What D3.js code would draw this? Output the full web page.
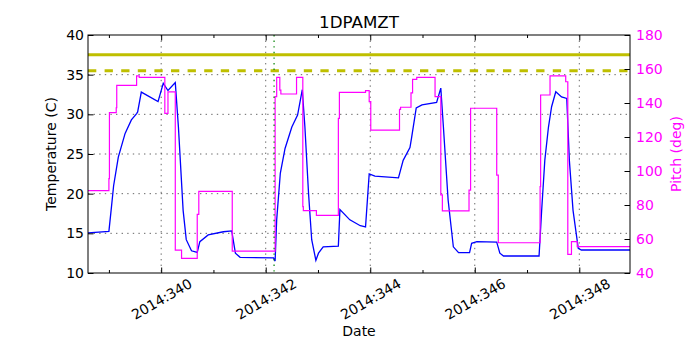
<!DOCTYPE html>
<html>
<head>
<meta charset="utf-8">
<script src="https://cdn.jsdelivr.net/npm/d3@7"></script>
<style>
body { margin: 0; background: #fff; }
text { font-family: "DejaVu Sans", sans-serif; }
</style>
</head>
<body>
<svg></svg>
<script>
// Temperature (1DPAMZT), day of year 2014
const tempDays = [338.60, 339.00, 339.05, 339.09, 339.18, 339.31, 339.43, 339.53, 339.55, 339.62, 339.94,
	340.04, 340.13, 340.27, 340.33, 340.42, 340.48, 340.58, 340.69, 340.74, 340.90, 341.19, 341.35,
	341.42, 341.51, 342.15, 342.18, 342.21, 342.28, 342.37, 342.50, 342.61, 342.70, 342.75, 342.82,
	342.88, 342.96, 343.01, 343.10, 343.39, 343.42, 343.61, 343.81, 343.91, 343.98, 344.09, 344.54,
	344.63, 344.76, 344.79, 344.88, 344.99, 345.27, 345.35, 345.40, 345.49, 345.59, 345.69, 345.90,
	345.94, 346.04, 346.42, 346.48, 346.55, 347.23, 347.28, 347.34, 347.41, 347.47, 347.55, 347.66,
	347.76, 347.81, 347.88, 347.98, 348.04, 348.97];
const tempValues = [15.05, 15.25, 18.4, 21.0, 24.6, 27.6, 29.3, 30.1, 30.3, 32.8, 31.6,
	33.9, 33.0, 34.0, 28.4, 17.9, 14.2, 12.8, 12.6, 13.95, 14.8, 15.2, 15.3,
	12.5, 11.98, 11.9, 11.5, 16.7, 22.6, 25.7, 28.4, 29.9, 33.1, 28.4, 20.0,
	14.2, 11.6, 12.5, 13.3, 13.4, 18.0, 16.7, 15.96, 15.8, 22.5, 22.2, 22.0,
	24.2, 25.8, 27.0, 30.8, 31.2, 31.5, 33.3, 28.4, 19.2, 13.3, 12.56, 12.56,
	13.74, 13.95, 13.9, 12.5, 12.14, 12.14, 17.9, 24.2, 28.4, 30.96, 32.85, 32.2,
	32.0, 24.2, 17.9, 13.1, 12.9, 12.9];

// Pitch (step values)
const pitchDays = [338.60, 339.00, 339.01, 339.14, 339.15, 339.53, 339.58, 340.07, 340.13, 340.27, 340.39,
	340.69, 340.72, 341.36, 342.18, 342.21, 342.27, 342.29, 342.59, 342.71, 342.72, 342.97, 343.39,
	343.41, 343.91, 343.98, 344.01, 344.56, 344.58, 344.78, 344.81, 344.89, 345.24, 345.35, 345.38,
	345.89, 345.92, 346.42, 346.45, 347.25, 347.26, 347.44, 347.74, 347.78, 347.85, 347.96, 348.97];
const pitchValues = [88.5, 95.5, 134.3, 137.2, 150.4, 155.9, 155.1, 133.9, 146.6, 53.5, 48.6,
	74.5, 88.0, 52.9, 143.7, 155.1, 147.6, 145.3, 155.1, 79.0, 76.7, 73.9, 131.0,
	146.3, 147.3, 140.8, 124.1, 136.3, 137.5, 146.0, 153.9, 155.1, 143.7, 85.9, 76.5,
	88.8, 136.9, 97.6, 57.8, 90.8, 144.7, 155.9, 152.5, 51.0, 58.4, 55.5, 55.5];

const xDomain = [338.6, 348.97];
const majorDays = [340, 342, 344, 346, 348];
const minorDays = [339, 341, 343, 345, 347];
const tempTicks = [10, 15, 20, 25, 30, 35, 40];
const pitchTicks = [40, 60, 80, 100, 120, 140, 160, 180];
const planningLimit = 37.5;
const cautionLimit = 35.5;
const markerDay = 342.16;

const svgWidth = 700;
const svgHeight = 350;
const margins = {top: 35, right: 70, bottom: 77, left: 88};
const w = svgWidth - margins.left - margins.right;
const h = svgHeight - margins.top - margins.bottom;

const scaleX = d3.scaleLinear().domain(xDomain).range([0, w]);
const scaleY = d3.scaleLinear().domain([10, 40]).range([h, 0]);
const scaleP = d3.scaleLinear().domain([40, 180]).range([h, 0]);

const svg = d3.select('svg')
	.attr('width', svgWidth)
	.attr('height', svgHeight);

const chart = svg.append('g')
	.attr('transform', `translate(${margins.left}, ${margins.top})`);

// Grid
chart.append('g')
	.selectAll('line')
	.data(majorDays)
	.join('line')
	.attr('x1', d => scaleX(d)).attr('x2', d => scaleX(d))
	.attr('y1', 0).attr('y2', h)
	.attr('stroke', '#000').attr('stroke-width', 0.6)
	.attr('stroke-dasharray', '1.4,4.2');

chart.append('g')
	.selectAll('line')
	.data(tempTicks.slice(1, -1))
	.join('line')
	.attr('x1', 0).attr('x2', w)
	.attr('y1', d => scaleY(d)).attr('y2', d => scaleY(d))
	.attr('stroke', '#000').attr('stroke-width', 0.6)
	.attr('stroke-dasharray', '1.4,4.2');

// Temperature line
const tempData = tempDays.map((d, i) => ({day: d, value: tempValues[i]}));
chart.append('path')
	.datum(tempData)
	.attr('fill', 'none')
	.attr('stroke', '#0000ff')
	.attr('stroke-width', 1.3)
	.attr('d', d3.line().x(d => scaleX(d.day)).y(d => scaleY(d.value)));

// Limit lines
chart.append('line')
	.attr('x1', 0).attr('x2', w)
	.attr('y1', scaleY(planningLimit)).attr('y2', scaleY(planningLimit))
	.attr('stroke', '#bfbf00').attr('stroke-width', 3);

chart.append('line')
	.attr('x1', 0).attr('x2', w)
	.attr('y1', scaleY(cautionLimit)).attr('y2', scaleY(cautionLimit))
	.attr('stroke', '#bfbf00').attr('stroke-width', 3)
	.attr('stroke-dasharray', '8.3,8.3');

// Pitch line (drawn on top, like the twin axis)
const pitchData = pitchDays.map((d, i) => ({day: d, value: pitchValues[i]}));
chart.append('path')
	.datum(pitchData)
	.attr('fill', 'none')
	.attr('stroke', '#ff00ff')
	.attr('stroke-width', 1.2)
	.attr('d', d3.line().curve(d3.curveStepAfter).x(d => scaleX(d.day)).y(d => scaleP(d.value)));

// Marker
chart.append('line')
	.attr('x1', scaleX(markerDay)).attr('x2', scaleX(markerDay))
	.attr('y1', 0).attr('y2', h)
	.attr('stroke', '#008000').attr('stroke-width', 1.2)
	.attr('stroke-dasharray', '1.4,4.2');

// Axes
const styleTicks = g => {
	g.select('.domain').remove();
	g.selectAll('line').attr('stroke', '#000');
	g.selectAll('text').attr('font-size', 14).attr('font-family', '"DejaVu Sans", sans-serif');
};

chart.append('g')
	.call(d3.axisLeft(scaleY).tickValues(tempTicks).tickSize(-5.5).tickPadding(4))
	.call(styleTicks);

chart.append('g')
	.attr('transform', `translate(${w}, 0)`)
	.call(d3.axisRight(scaleP).tickValues(pitchTicks).tickSize(-5.5).tickPadding(6))
	.call(styleTicks)
	.call(g => g.selectAll('text').attr('fill', '#ff00ff'));

const bottom = chart.append('g')
	.attr('transform', `translate(0, ${h})`)
	.call(d3.axisBottom(scaleX).tickValues(majorDays).tickSize(-5.5).tickFormat(d => `2014:${d}`))
	.call(styleTicks);

// rotated date labels, centred under each tick
bottom.selectAll('text')
	.attr('text-anchor', 'middle')
	.attr('dy', null)
	.attr('y', 0)
	.attr('dominant-baseline', 'central')
	.attr('transform', 'translate(0, 26) rotate(-30)');

chart.append('g')
	.attr('transform', `translate(0, ${h})`)
	.call(d3.axisBottom(scaleX).tickValues(minorDays).tickSize(-3).tickFormat(''))
	.call(styleTicks);

chart.append('g')
	.call(d3.axisTop(scaleX).tickValues(majorDays).tickSize(-5.5).tickFormat(''))
	.call(styleTicks);

chart.append('g')
	.call(d3.axisTop(scaleX).tickValues(minorDays).tickSize(-3).tickFormat(''))
	.call(styleTicks);

// Frame
chart.append('rect')
	.attr('width', w).attr('height', h)
	.attr('fill', 'none')
	.attr('stroke', '#000').attr('stroke-width', 1);

// Labels
svg.append('text')
	.attr('x', margins.left + w / 2).attr('y', 28)
	.attr('text-anchor', 'middle')
	.attr('font-size', 16.7)
	.text('1DPAMZT');

svg.append('text')
	.attr('x', margins.left + w / 2).attr('y', 336)
	.attr('text-anchor', 'middle')
	.attr('font-size', 14)
	.text('Date');

svg.append('text')
	.attr('transform', `translate(56, ${margins.top + h / 2}) rotate(-90)`)
	.attr('text-anchor', 'middle')
	.attr('font-size', 14)
	.text('Temperature (C)');

svg.append('text')
	.attr('transform', `translate(681, ${margins.top + h / 2}) rotate(-90)`)
	.attr('text-anchor', 'middle')
	.attr('font-size', 14)
	.attr('fill', '#ff00ff')
	.text('Pitch (deg)');
</script>
</body>
</html>
